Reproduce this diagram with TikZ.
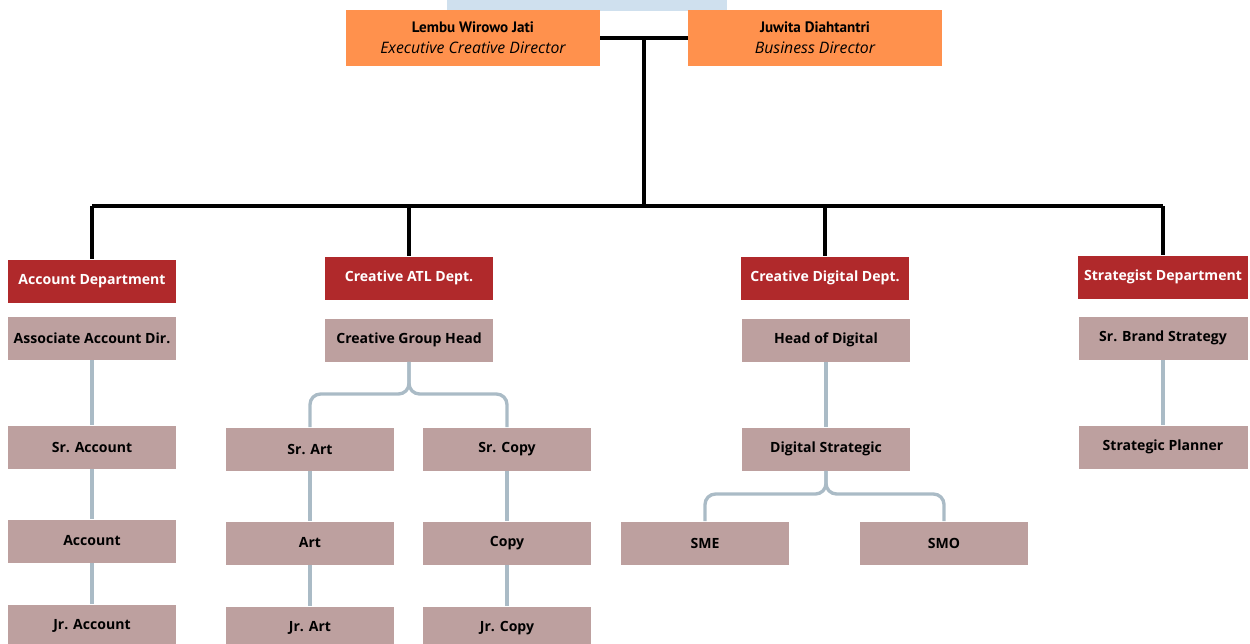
\documentclass[tikz,border=0pt]{standalone}
\usepackage{fontspec}
\setmainfont{Open Sans}
\newfontfamily\namefont{PT Sans}
\usetikzlibrary{positioning}
\definecolor{leadorange}{HTML}{FF914D}
\definecolor{deptred}{HTML}{B0292B}
\definecolor{rolemauve}{HTML}{BDA09F}
\definecolor{linkgray}{HTML}{AABBC6}
\definecolor{skyband}{HTML}{CFE0EE}

\begin{document}
\begin{tikzpicture}[x=0.02cm, y=-0.02cm,
    lead/.style={fill=leadorange, minimum width=5.08cm, minimum height=1.12cm, align=center, font=\fontsize{8}{12}\selectfont},
    dept/.style={fill=deptred, text=white, minimum width=3.38cm, minimum height=0.86cm, font=\bfseries\fontsize{8}{9}\selectfont},
    role/.style={fill=rolemauve, minimum width=3.38cm, minimum height=0.86cm, font=\bfseries\fontsize{8}{9}\selectfont},
    boss/.style={line width=2pt, black},
    link/.style={line width=1.9pt, linkgray, rounded corners=6pt}]

    \useasboundingbox (0,0) rectangle (1250,643);
    \fill[skyband] (447,0) rectangle (727,11);

    % directors
    \node[lead] (lembu)  at (473,38) {{\namefont\bfseries\fontsize{8.6}{12}\selectfont Lembu Wirowo Jati}\\{\itshape\fontsize{9}{12}\selectfont Executive Creative Director}};
    \node[lead] (juwita) at (815,38) {{\namefont\bfseries\fontsize{8.6}{12}\selectfont Juwita Diahtantri}\\{\itshape\fontsize{9}{12}\selectfont Business Director}};

    % departments
    \node[dept] (acc-dept)   at (92,281)   {Account Department};
    \node[dept] (atl-dept)   at (409,278)  {Creative ATL Dept.};
    \node[dept] (dig-dept)   at (825,278)  {Creative Digital Dept.};
    \node[dept] (strat-dept) at (1163,277) {Strategist Department};

    % account
    \node[role] (acc-0) at (92,338) {Associate Account Dir.};
    \node[role] (acc-1) at (92,447) {Sr. Account};
    \node[role] (acc-2) at (92,541) {Account};
    \node[role] (acc-3) at (92,626) {Jr. Account};

    % creative atl
    \node[role] (atl-0)  at (409,340) {Creative Group Head};
    \node[role] (art-1)  at (310,449) {Sr. Art};
    \node[role] (art-2)  at (310,543) {Art};
    \node[role] (art-3)  at (310,628) {Jr. Art};
    \node[role] (copy-1) at (507,449) {Sr. Copy};
    \node[role] (copy-2) at (507,543) {Copy};
    \node[role] (copy-3) at (507,628) {Jr. Copy};

    % creative digital
    \node[role] (dig-0) at (826,340) {Head of Digital};
    \node[role] (dig-1) at (826,449) {Digital Strategic};
    \node[role] (sme)   at (705,543) {SME};
    \node[role] (smo)   at (944,543) {SMO};

    % strategist
    \node[role] (strat-0) at (1163,338) {Sr. Brand Strategy};
    \node[role] (strat-1) at (1163,447) {Strategic Planner};

    \coordinate (tee) at (644,38);
    \coordinate (bar) at (644,206);
    \coordinate (atl-split) at (409,394);
    \coordinate (dig-split) at (826,494);

    \draw[boss] (lembu.east) -- (juwita.west);
    \draw[boss] (tee) -- (bar);
    \draw[boss] (acc-dept.north |- bar) -- (strat-dept.north |- bar);
    \draw[boss] (acc-dept.north |- bar) -- (acc-dept.north);
    \draw[boss] (atl-dept.north |- bar) -- (atl-dept.north);
    \draw[boss] (dig-dept.north |- bar) -- (dig-dept.north);
    \draw[boss] (strat-dept.north |- bar) -- (strat-dept.north);

    \draw[link] (acc-0) -- (acc-1);
    \draw[link] (acc-1) -- (acc-2);
    \draw[link] (acc-2) -- (acc-3);

    \draw[link] (atl-0.south) -- (atl-split) -- (art-1.north |- atl-split) -- (art-1.north);
    \draw[link] (atl-0.south) -- (atl-split) -- (copy-1.north |- atl-split) -- (copy-1.north);
    \draw[link] (art-1) -- (art-2);
    \draw[link] (art-2) -- (art-3);
    \draw[link] (copy-1) -- (copy-2);
    \draw[link] (copy-2) -- (copy-3);

    \draw[link] (dig-0) -- (dig-1);
    \draw[link] (dig-1.south) -- (dig-split) -- (sme.north |- dig-split) -- (sme.north);
    \draw[link] (dig-1.south) -- (dig-split) -- (smo.north |- dig-split) -- (smo.north);

    \draw[link] (strat-0) -- (strat-1);

\end{tikzpicture}
\end{document}
